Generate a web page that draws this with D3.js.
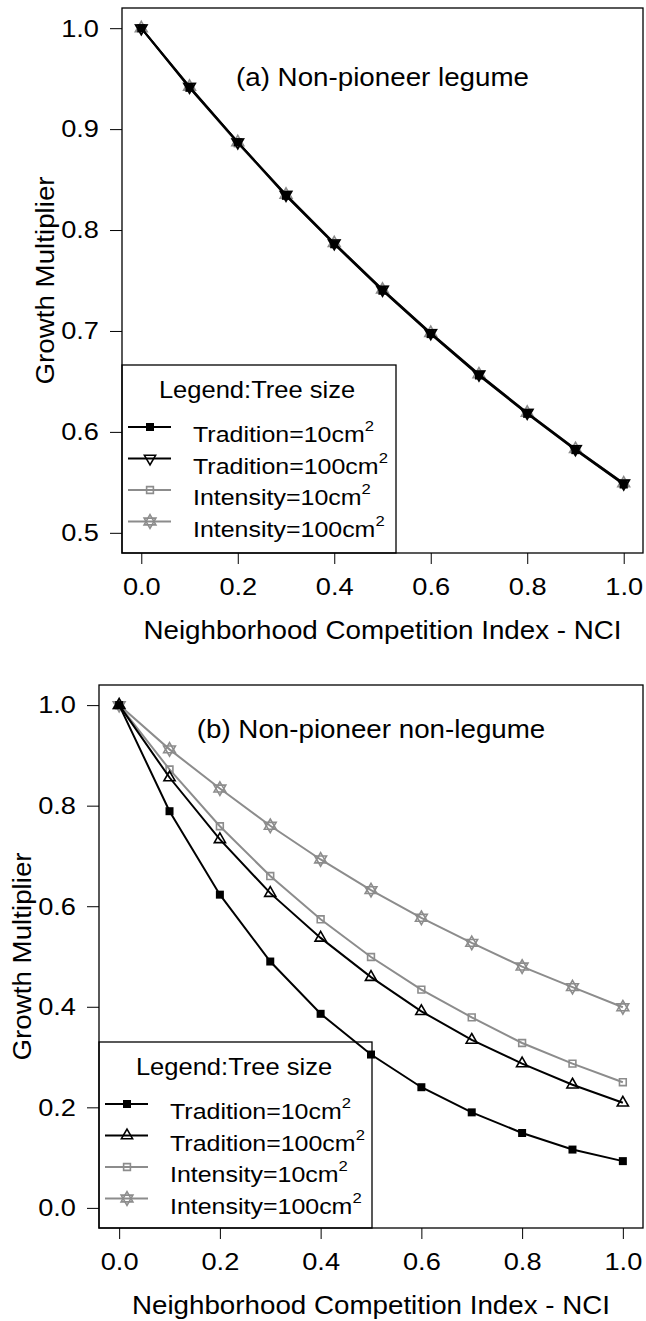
<!DOCTYPE html>
<html>
<head>
<meta charset="utf-8">
<script src="https://cdn.jsdelivr.net/npm/d3@7"></script>
<style>
body { margin: 0; background: #fff; }
text { font-family: "Liberation Sans", Arial, sans-serif; fill: #000; }
</style>
</head>
<body>
<div id="chart"></div>
<script>
// x values (NCI)
const nci = [0.0, 0.1, 0.2, 0.3, 0.4, 0.5, 0.6, 0.7, 0.8, 0.9, 1.0];

// (a) Non-pioneer legume - the four curves lie on top of each other
const legumeTrad10  = [1.000, 0.941, 0.887, 0.834, 0.786, 0.740, 0.697, 0.656, 0.618, 0.582, 0.548];
const legumeTrad100 = [1.000, 0.942, 0.887, 0.835, 0.787, 0.741, 0.698, 0.657, 0.619, 0.583, 0.549];
const legumeInt10   = [1.000, 0.941, 0.886, 0.834, 0.786, 0.740, 0.697, 0.656, 0.618, 0.582, 0.548];
const legumeInt100  = [1.000, 0.942, 0.887, 0.835, 0.787, 0.741, 0.698, 0.657, 0.619, 0.583, 0.549];

// (b) Non-pioneer non-legume
const nonLegumeTrad10  = [1.000, 0.789, 0.623, 0.490, 0.386, 0.305, 0.240, 0.190, 0.149, 0.116, 0.093];
const nonLegumeTrad100 = [1.000, 0.856, 0.733, 0.626, 0.537, 0.459, 0.391, 0.334, 0.287, 0.245, 0.209];
const nonLegumeInt10   = [1.000, 0.872, 0.759, 0.660, 0.574, 0.499, 0.434, 0.379, 0.328, 0.287, 0.250];
const nonLegumeInt100  = [1.000, 0.912, 0.834, 0.760, 0.693, 0.632, 0.577, 0.527, 0.480, 0.439, 0.399];

const seriesNames = ["Tradition=10cm", "Tradition=100cm", "Intensity=10cm", "Intensity=100cm"];
const xTicks = [0.0, 0.2, 0.4, 0.6, 0.8, 1.0];
const yTicksA = [0.5, 0.6, 0.7, 0.8, 0.9, 1.0];
const yTicksB = [0.0, 0.2, 0.4, 0.6, 0.8, 1.0];
const panelTitles = ["(a) Non-pioneer legume", "(b) Non-pioneer non-legume"];
const xTitle = "Neighborhood Competition Index - NCI";
const yTitle = "Growth Multiplier";
const legendTitle = "Legend:Tree size";

const black = "#000", gray = "#8c8c8c";
// the original text is a bit wider than Liberation Sans at the same height
const SX = 1.11;

const svg = d3.select("#chart").append("svg")
    .attr("width", 646).attr("height", 1321)
    .style("background", "#fff");

// move x/y of each text into a transform and stretch it horizontally
function stretch(sel) {
    sel.each(function () {
        const t = d3.select(this);
        const x = +t.attr("x") || 0, y = +t.attr("y") || 0;
        const prev = t.attr("transform") || "";
        t.attr("x", null).attr("y", null)
            .attr("transform", `${prev} translate(${x},${y}) scale(${SX},1)`);
    });
}

// draws one marker of the given kind centred on (cx, cy)
function marker(g, kind, cx, cy) {
    const m = g.append("g").attr("transform", `translate(${cx},${cy})`);
    if (kind == "sqFilled") {
        m.append("path").attr("d", d3.symbol().type(d3.symbolSquare).size(64)())
            .attr("fill", black);
    } else if (kind == "sqOpen") {
        m.append("path").attr("d", d3.symbol().type(d3.symbolSquare).size(46)())
            .attr("fill", "none").attr("stroke", gray).attr("stroke-width", 1.6);
    } else if (kind == "triUp" || kind == "triDown") {
        m.append("path").attr("d", d3.symbol().type(d3.symbolTriangle).size(54)())
            .attr("transform", kind == "triDown" ? "rotate(180)" : null)
            .attr("fill", "none").attr("stroke", black).attr("stroke-width", 1.6);
    } else if (kind == "star") {
        const tri = d3.symbol().type(d3.symbolTriangle).size(60)();
        m.append("path").attr("d", tri)
            .attr("fill", "none").attr("stroke", gray).attr("stroke-width", 1.6);
        m.append("path").attr("d", tri).attr("transform", "rotate(180)")
            .attr("fill", "none").attr("stroke", gray).attr("stroke-width", 1.6);
    }
}

function drawPanel(p) {
    const x = d3.scaleLinear().domain([-0.04, 1.04]).range([p.left, p.right]);
    const y = d3.scaleLinear().domain(p.yDomain).range([p.bottom, p.top]);
    const g = svg.append("g");

    // axes
    const ax = g.append("g").attr("transform", `translate(0,${p.bottom})`)
        .call(d3.axisBottom(x).tickValues(xTicks).tickSize(11).tickSizeOuter(0)
            .tickPadding(14).tickFormat(d3.format(".1f")));
    const ay = g.append("g").attr("transform", `translate(${p.left},0)`)
        .call(d3.axisLeft(y).tickValues(p.yTicks).tickSize(12).tickSizeOuter(0)
            .tickPadding(11).tickFormat(d3.format(".1f")));
    [ax, ay].forEach(a => {
        a.select(".domain").remove();
        a.attr("font-family", null).attr("font-size", 24.5);
        a.selectAll("line").attr("stroke", black).attr("stroke-width", 1);
        a.selectAll("text").attr("fill", black).call(stretch);
    });

    // plot box
    g.append("rect").attr("x", p.left).attr("y", p.top)
        .attr("width", p.right - p.left).attr("height", p.bottom - p.top)
        .attr("fill", "none").attr("stroke", black).attr("stroke-width", 1.3);

    g.append("text").attr("x", (p.left + p.right) / 2).attr("y", p.bottom + 86)
        .attr("text-anchor", "middle").attr("font-size", 25).text(xTitle).call(stretch);
    g.append("text").attr("transform", `translate(${p.left - 68},${(p.top + p.bottom) / 2}) rotate(-90)`)
        .attr("text-anchor", "middle").attr("font-size", 25).text(yTitle).call(stretch);

    g.append("text").attr("x", (p.left + p.right) / 2).attr("y", p.noteY)
        .attr("text-anchor", "middle").attr("font-size", 25).text(p.note).call(stretch);

    // lines then markers, gray series first so black sits on top
    const line = d3.line().x(d => x(d[0])).y(d => y(d[1]));
    const order = [2, 3, 0, 1];
    order.forEach(i => {
        const s = p.series[i];
        const pts = nci.map((v, k) => [v, s.values[k]]);
        g.append("path").attr("d", line(pts)).attr("fill", "none")
            .attr("stroke", s.color).attr("stroke-width", 2);
        pts.forEach(d => marker(g, s.kind, x(d[0]), y(d[1])));
    });

    // legend (transparent background, like the original)
    const lg = g.append("g").attr("transform", `translate(${p.left},${p.legTop})`);
    lg.append("rect").attr("x", 0).attr("y", 0).attr("width", p.legW)
        .attr("height", p.bottom - p.legTop)
        .attr("fill", "none").attr("stroke", black).attr("stroke-width", 1.3);
    lg.append("text").attr("x", 135).attr("y", 33).attr("text-anchor", "middle")
        .attr("font-size", 23).text(legendTitle).call(stretch);
    p.series.forEach((s, i) => {
        const ry = 62 + i * 31.5;
        lg.append("line").attr("x1", 6).attr("x2", 49).attr("y1", ry).attr("y2", ry)
            .attr("stroke", s.color).attr("stroke-width", 2);
        marker(lg, s.kind, 28, ry);
        const t = lg.append("text").attr("x", 71).attr("y", ry + 15).attr("font-size", 22.5);
        t.append("tspan").text(seriesNames[i]);
        t.append("tspan").attr("dy", -11).attr("font-size", 15).text("2");
        t.call(stretch);
    });
}

drawPanel({
    left: 122, right: 643, top: 8, bottom: 553,
    yDomain: [0.48, 1.02], yTicks: yTicksA,
    note: panelTitles[0], noteY: 86,
    legTop: 365, legW: 274,
    series: [
        { values: legumeTrad10, color: black, kind: "sqFilled" },
        { values: legumeTrad100, color: black, kind: "triDown" },
        { values: legumeInt10, color: gray, kind: "sqOpen" },
        { values: legumeInt100, color: gray, kind: "star" }
    ]
});

drawPanel({
    left: 99, right: 643, top: 685, bottom: 1228,
    yDomain: [-0.04, 1.04], yTicks: yTicksB,
    note: panelTitles[1], noteY: 738,
    legTop: 1042, legW: 273,
    series: [
        { values: nonLegumeTrad10, color: black, kind: "sqFilled" },
        { values: nonLegumeTrad100, color: black, kind: "triUp" },
        { values: nonLegumeInt10, color: gray, kind: "sqOpen" },
        { values: nonLegumeInt100, color: gray, kind: "star" }
    ]
});
</script>
</body>
</html>
